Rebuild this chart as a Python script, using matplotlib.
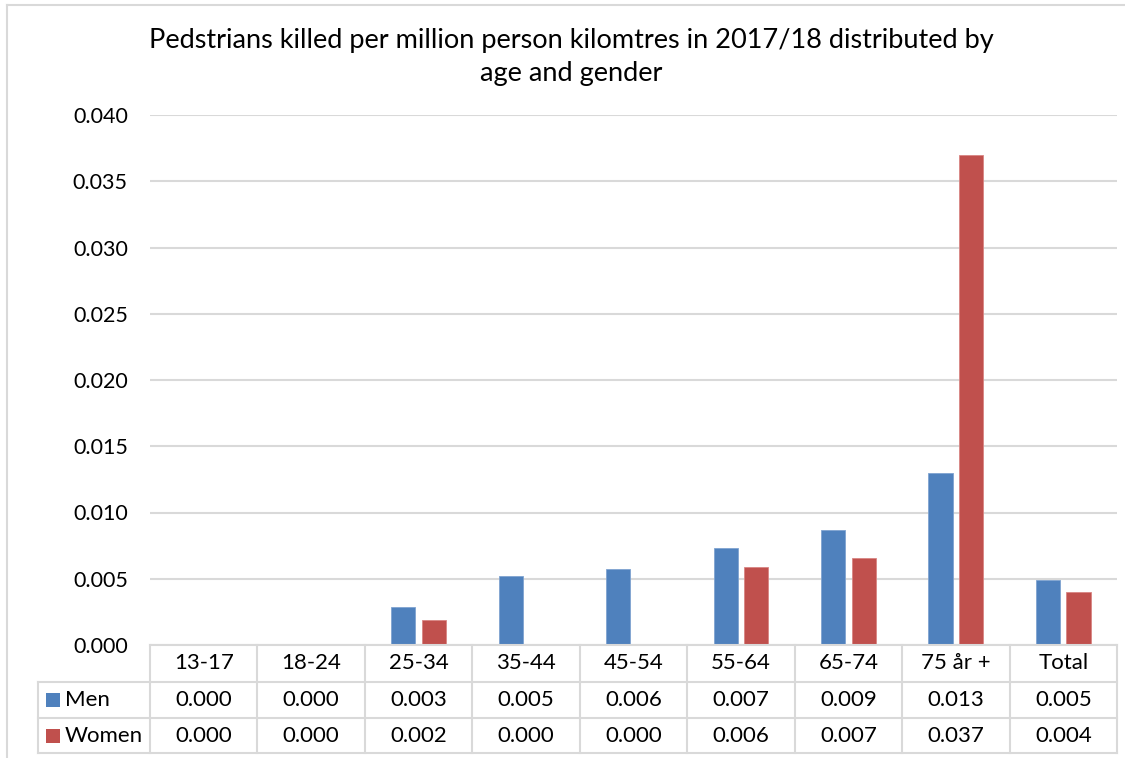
import matplotlib
matplotlib.use("Agg")
import matplotlib.pyplot as plt
from matplotlib.lines import Line2D
from matplotlib.patches import Rectangle
import matplotlib.transforms as mtransforms

plt.rcParams["font.family"] = ["Lato", "DejaVu Sans"]

# data
age_groups = ["13-17", "18-24", "25-34", "35-44", "45-54", "55-64", "65-74", "75 år +", "Total"]
men = [0.0, 0.0, 0.0029, 0.0052, 0.0057, 0.0073, 0.0087, 0.0130, 0.0049]
women = [0.0, 0.0, 0.0019, 0.0, 0.0, 0.0059, 0.0066, 0.0370, 0.0040]
series_names = ["Men", "Women"]
y_ticks = [0.000, 0.005, 0.010, 0.015, 0.020, 0.025, 0.030, 0.035, 0.040]
title = "Pedstrians killed per million person kilomtres in 2017/18 distributed by\nage and gender"

blue = "#4F81BD"
red = "#C0504D"
grid_c = "#D9D9D9"
W, H = 1125, 758
fs = 16

fig = plt.figure(figsize=(W / 100, H / 100), dpi=100)
# plot area in pixels: x 150..1117, y 115..645
ax = fig.add_axes([150 / W, (H - 645) / H, 967 / W, 530 / H])

n = len(age_groups)
xs = list(range(n))
bw = 0.225
off = 0.142
ax.bar([x - off for x in xs], men, width=bw, color=blue, edgecolor="#7FA3D0", linewidth=0.6, zorder=3)
ax.bar([x + off for x in xs], women, width=bw, color=red, edgecolor="#D98583", linewidth=0.6, zorder=3)

ax.set_xlim(-0.5, n - 0.5)
ax.set_ylim(0, 0.040)
ax.set_yticks(y_ticks)
ax.set_yticklabels([f"{v:.3f}" for v in y_ticks], fontsize=15.5)
ax.tick_params(axis="y", length=0, pad=16)
ax.set_xticks([])
ax.grid(axis="y", color=grid_c, linewidth=1.5, zorder=0)
for s in ["top", "right", "left"]:
    ax.spines[s].set_visible(False)
ax.spines["bottom"].set_color(grid_c)
ax.spines["bottom"].set_linewidth(1.5)
ax.spines["bottom"].set_zorder(4)

fig.text(571 / W, 1 - 57 / H, title, ha="center", va="center", fontsize=19.5,
         linespacing=1.4)

# data table below the plot: x from category positions, y in figure pixels
tr = mtransforms.blended_transform_factory(ax.transData, fig.transFigure)
def fy(py):
    return 1 - py / H

x_left = -0.5 - (150 - 38) / (967 / n)
row_lines = [682, 718, 753]
for py in row_lines:
    ax.add_line(Line2D([x_left, n - 0.5], [fy(py), fy(py)], transform=tr, color=grid_c,
                       linewidth=1.5, clip_on=False))
for i in range(n + 1):
    ax.add_line(Line2D([i - 0.5, i - 0.5], [fy(645), fy(753)], transform=tr, color=grid_c,
                       linewidth=1.5, clip_on=False))
ax.add_line(Line2D([x_left, x_left], [fy(682), fy(753)], transform=tr, color=grid_c,
                   linewidth=1.5, clip_on=False))

for i, lab in enumerate(age_groups):
    ax.text(i, fy(663), lab, transform=tr, ha="center", va="center", fontsize=fs)
    ax.text(i, fy(700), f"{men[i]:.3f}", transform=tr, ha="center", va="center", fontsize=fs)
    ax.text(i, fy(736), f"{women[i]:.3f}", transform=tr, ha="center", va="center", fontsize=fs)

for name, color, py in [(series_names[0], blue, 700), (series_names[1], red, 736)]:
    fig.add_artist(Rectangle((46 / W, fy(py + 7)), 14 / W, 14 / H, transform=fig.transFigure,
                             facecolor=color, edgecolor="none"))
    fig.text(65 / W, fy(py), name, ha="left", va="center", fontsize=fs)

# chart border (left and top edges visible)
fig.add_artist(Line2D([7 / W, 7 / W], [0, fy(5)], color=grid_c, linewidth=1.5))
fig.add_artist(Line2D([7 / W, 1], [fy(5), fy(5)], color=grid_c, linewidth=1.5))

fig.savefig("out.png", dpi=100)
